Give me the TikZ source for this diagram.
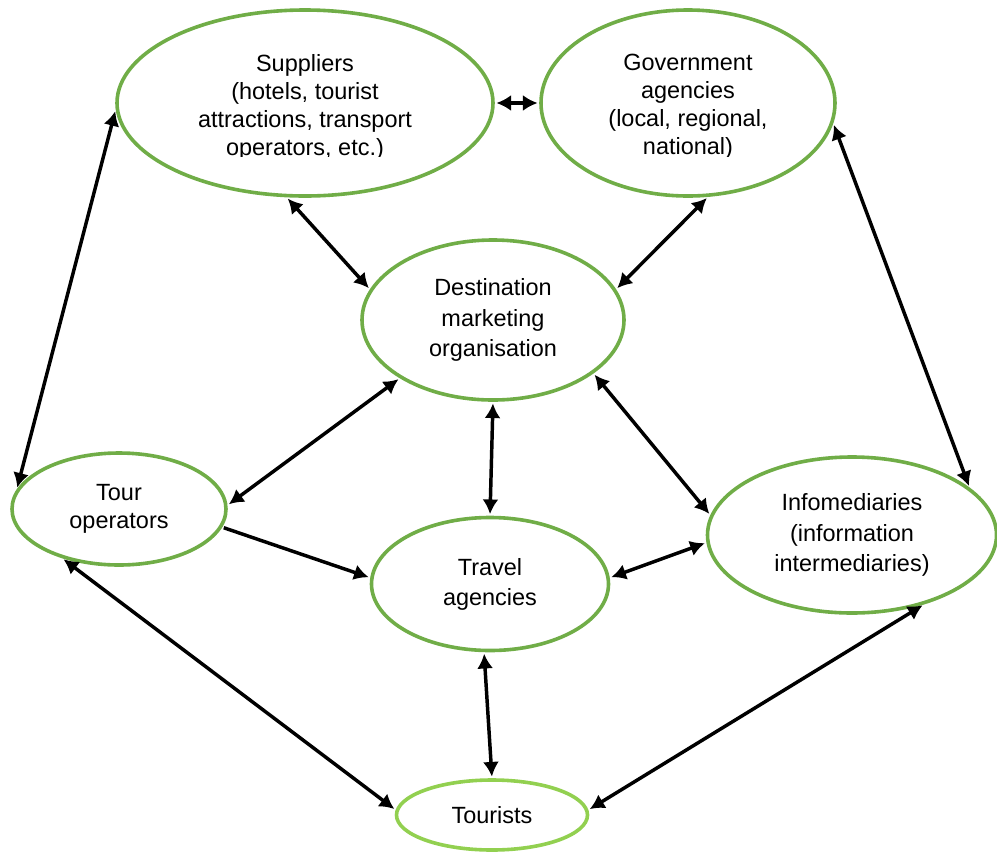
\documentclass[tikz,border=0pt]{standalone}
\usepackage{fontspec}
\setmainfont{Liberation Sans}
\usetikzlibrary{shapes.geometric,arrows.meta}
\definecolor{bubbleline}{HTML}{70AD47}
\definecolor{bubblelight}{HTML}{92D050}
\begin{document}
\begin{tikzpicture}[x=0.75pt,y=-0.75pt,
  bubble/.style={ellipse, draw=bubbleline, line width=2.7pt, fill=white, inner sep=0pt,
    align=center, font=\fontsize{17.6}{21}\selectfont},
  loose/.style={font=\fontsize{17.6}{22.6}\selectfont},
  lbl/.style={align=center, font=\fontsize{17.6}{21}\selectfont, inner sep=0pt},
  link/.style={line width=2.6pt, {Latex[length=11pt,width=12pt]}-{Latex[length=11pt,width=12pt]},
    shorten <=1.2pt, shorten >=1.2pt},
  onelink/.style={line width=2.6pt, -{Latex[length=11pt,width=12pt]}, shorten <=1.2pt, shorten >=1.2pt},
  ]
\useasboundingbox (0,0) rectangle (997,851);

% stakeholders
\node[bubble, minimum width=282pt, minimum height=139.5pt] (sup) at (305,103) {};
\node[bubble, minimum width=220.5pt, minimum height=139.5pt] (gov) at (688,103) {};
\node[bubble, loose, minimum width=196.5pt, minimum height=120pt] (dmo) at (493,320) {Destination\\marketing\\organisation};
\node[bubble, minimum width=160.5pt, minimum height=84pt] (tour) at (119,509) {Tour\\operators};
\node[bubble, loose, minimum width=177.75pt, minimum height=99.75pt] (travel) at (490,584) {Travel\\agencies};
\node[bubble, loose, minimum width=216.75pt, minimum height=117pt] (info) at (852,535) {Infomediaries\\(information\\intermediaries)};
\node[bubble, draw=bubblelight, minimum width=143.25pt, minimum height=52.5pt] (tourists) at (492,815) {Tourists};

% labels of the two upper ellipses, cut off at the bottom of their text frames
\begin{scope}
  \clip (0,0) rectangle (997,156);
  \node[lbl] (suptxt) at (305,107) {Suppliers\\(hotels, tourist\\attractions, transport\\operators, etc.)};
  \node[lbl] (govtxt) at (688,107) {Government\\agencies\\(local, regional,\\national)};
\end{scope}

% relationships
\draw[link] (sup.east) -- (gov.west);
\draw[link] (sup.182) -- (tour.169);
\draw[link] (sup.259) -- (dmo.166);
\draw[link] (gov.282) -- (dmo.14);
\draw[link] (gov.352) -- (info.22);
\draw[link] (dmo.212) -- (tour.2);
\draw[link] (dmo.270) -- (travel.90);
\draw[link] (dmo.332) -- (info.172);
\draw[onelink] (tour.350) -- (travel.177);
\draw[link] (travel.3) -- (info.183);
\draw[link] (travel.265) -- (tourists.90);
\draw[link] (tour.221) -- (tourists.177);
\draw[link] (info.316) -- (tourists.3);
\end{tikzpicture}
\end{document}
